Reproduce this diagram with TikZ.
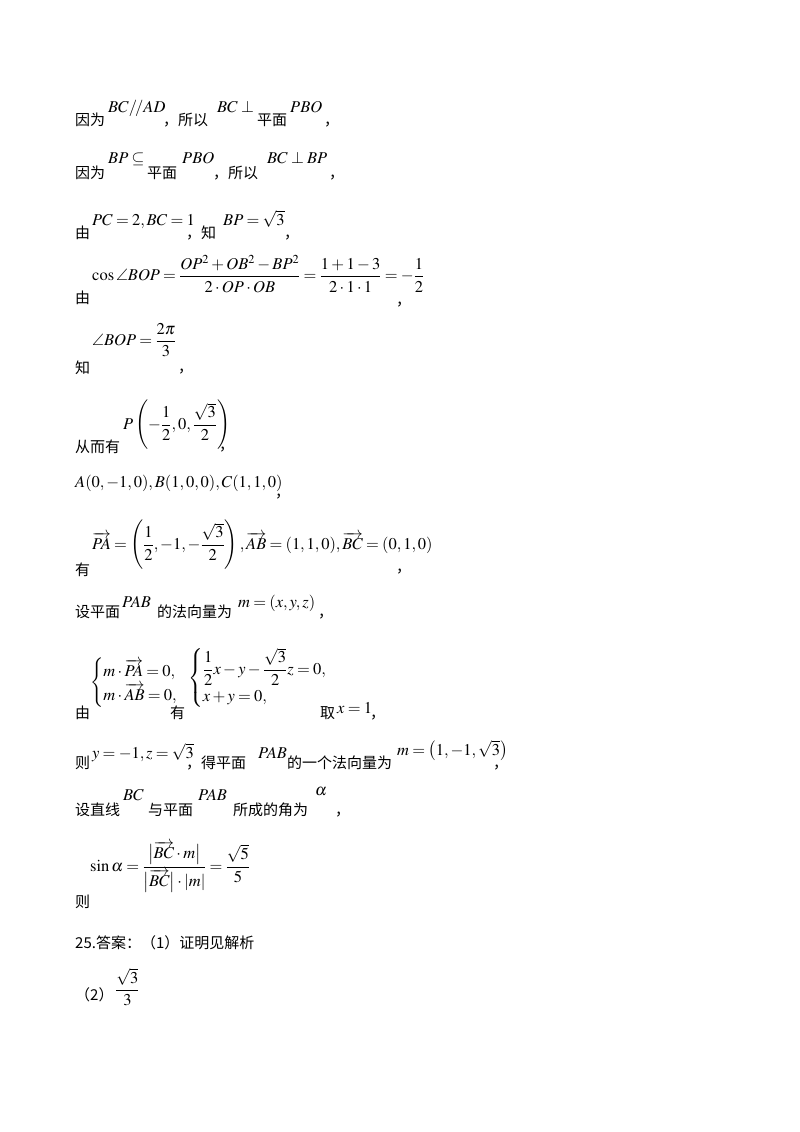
\documentclass[tikz,border=0pt]{standalone}
\usepackage{amsmath,amssymb}
\usepackage{mathptmx}
\usepackage[no-math]{fontspec}
\setmainfont{Liberation Serif}
\newfontfamily\cjk{Noto Sans CJK SC}
\thickmuskip=3.5mu plus 2mu
\medmuskip=2.5mu plus 1mu
\begin{document}
\begin{tikzpicture}[x=1pt,y=-1pt,
  t/.style={anchor=base west,inner sep=0pt,font=\fontsize{15}{18}\selectfont\cjk},
  m/.style={anchor=base west,inner sep=0pt,font=\fontsize{16.5}{19}\selectfont},
  mc/.style={anchor=west,inner sep=0pt,font=\fontsize{16.5}{19}\selectfont}]
\useasboundingbox (0,0) rectangle (800,1132);
% line 1
\node[t] (a1) at (75,125) {因为};
\node[m] (a2) at (108,112) {$BC/\!/AD$};
\node[t] (a3) at (163,125) {，所以};
\node[m] (a4) at (217,112) {$BC\perp$};
\node[t] (a5) at (257,125) {平面};
\node[m] (a6) at (290,112) {$PBO$};
\node[t] (a7) at (324,125) {，};
% line 2
\node[t] (b1) at (75,178) {因为};
\node[m] (b2) at (108,163) {$BP\subseteq$};
\node[t] (b3) at (147,178) {平面};
\node[m] (b4) at (182,163) {$PBO$};
\node[t] (b5) at (213,178) {，所以};
\node[m] (b6) at (267,163) {$BC\perp BP$};
\node[t] (b7) at (329,178) {，};
% line 3
\node[t] (c1) at (75,238) {由};
\node[m] (c2) at (92,225) {$PC=2,BC=1$};
\node[t] (c3) at (186,238) {，知};
\node[m] (c4) at (223,225) {$BP=\sqrt{3}$};
\node[t] (c5) at (284,238) {，};
% line 4
\node[t] (d1) at (75,303) {由};
\node[mc] (d2) at (92,274) {$\cos\angle BOP=\dfrac{OP^2+OB^2-BP^2}{2\cdot OP\cdot OB}=\dfrac{1+1-3}{2\cdot1\cdot1}=-\dfrac{1}{2}$};
\node[t] (d3) at (396,305) {，};
% line 5
\node[t] (e1) at (75,373) {知};
\node[mc] (e2) at (92,340) {$\angle BOP=\dfrac{2\pi}{3}$};
\node[t] (e3) at (178,372) {，};
% line 6
\node[t] (f1) at (75,452) {从而有};
\node[mc] (f2) at (123,425) {$P\left(-\dfrac{1}{2},0,\dfrac{\sqrt{3}}{2}\right)$};
\node[t] (f3) at (219,450) {，};
% line 7
\node[m] (g1) at (75,487) {$A(0,-1,0),B(1,0,0),C(1,1,0)$};
\node[t] (g2) at (275,497) {，};
% line 8
\node[t] (h1) at (75,575) {有};
\node[mc] (h2) at (92,545) {$\overrightarrow{PA}=\left(\dfrac{1}{2},-1,-\dfrac{\sqrt{3}}{2}\right),\overrightarrow{AB}=(1,1,0),\overrightarrow{BC}=(0,1,0)$};
\node[t] (h3) at (396,572) {，};
% line 9
\node[t] (i1) at (75,617) {设平面};
\node[m] (i2) at (122,607) {$PAB$};
\node[t] (i3) at (157,617) {的法向量为};
\node[m] (i4) at (238,607) {$m=(x,y,z)$};
\node[t] (i5) at (318,617) {，};
% line 10
\node[t] (j1) at (75,718) {由};
\node[mc] (j2) at (90,683) {$\begin{cases}m\cdot\overrightarrow{PA}=0,\\ m\cdot\overrightarrow{AB}=0,\end{cases}$};
\node[t] (j3) at (170,718) {有};
\node[mc] (j4) at (188,678) {$\begin{cases}\dfrac{1}{2}x-y-\dfrac{\sqrt{3}}{2}z=0,\\ x+y=0,\end{cases}$};
\node[t] (j5) at (320,718) {取};
\node[m] (j6) at (337,713) {$x=1$};
\node[t] (j7) at (370,718) {，};
% line 11
\node[t] (k1) at (75,768) {则};
\node[m] (k2) at (92,758) {$y=-1,z=\sqrt{3}$};
\node[t] (k3) at (186,768) {，得平面};
\node[m] (k4) at (258,758) {$PAB$};
\node[t] (k5) at (287,768) {的一个法向量为};
\node[m] (k6) at (397,755) {$m=\bigl(1,-1,\sqrt{3}\bigr)$};
\node[t] (k7) at (493,768) {，};
% line 12
\node[t] (l1) at (75,815) {设直线};
\node[m] (l2) at (123,800) {$BC$};
\node[t] (l3) at (148,815) {与平面};
\node[m] (l4) at (198,800) {$PAB$};
\node[t] (l5) at (233,815) {所成的角为};
\node[m] (l6) at (315,795) {$\alpha$};
\node[t] (l7) at (335,815) {，};
% line 13
\node[mc] (n1) at (90,867) {$\sin\alpha=\dfrac{\bigl|\overrightarrow{BC}\cdot m\bigr|}{\bigl|\overrightarrow{BC}\bigr|\cdot|m|}=\dfrac{\sqrt{5}}{5}$};
\node[t] (n2) at (75,907) {则};
% line 14
\node[t] (o1) at (75,948) {25.答案：（1）证明见解析};
% line 15
\node[t] (p1) at (75,1000) {（2）};
\node[mc] (p2) at (115,987) {$\dfrac{\sqrt{3}}{3}$};
\end{tikzpicture}
\end{document}
